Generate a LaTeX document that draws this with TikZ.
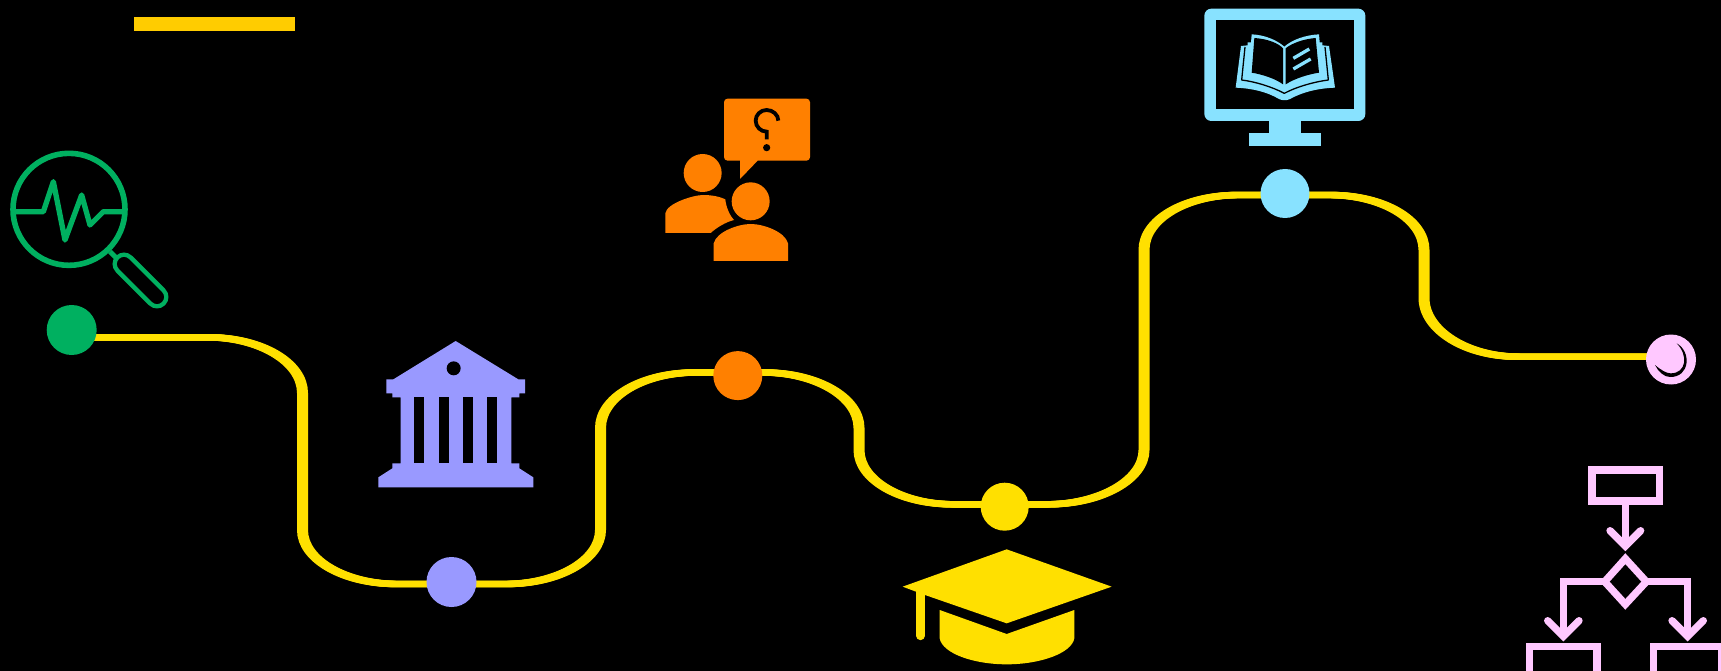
\documentclass[tikz,border=0pt]{standalone}
\usetikzlibrary{calc}
\definecolor{cgreen}{HTML}{00B060}
\definecolor{cyellow}{HTML}{FFE000}
\definecolor{cbar}{HTML}{FFCC00}
\definecolor{cpurple}{HTML}{9999FF}
\definecolor{corange}{HTML}{FF8000}
\definecolor{ccyan}{HTML}{88E2FF}
\definecolor{cpink}{HTML}{FFC8FF}
\pgfdeclarelayer{under}
\pgfsetlayers{under,main}
\tikzset{
  dot/.style={circle,minimum size=#1,inner sep=0pt,draw=none},
  route/.style={draw=cyellow,line width=6.4pt},
  zoomed/.style={x=0.33333pt,y=-0.33333pt},
  pinkline/.style={draw=cpink,line width=7.3pt,line join=miter},
  pinkhead/.style={draw=cpink,line width=7.3pt,line cap=round,line join=miter},
}
\begin{document}
\begin{tikzpicture}[x=1pt,y=-1pt]
\useasboundingbox (0,0) rectangle (1721,671);
\clip (0,0) rectangle (1721,671);

% top bar
\fill[cbar] (134,17) rectangle (295,31);

% stations
\node[dot=50pt,fill=cgreen]  (a) at (71.7,330) {};
\node[dot=50pt,fill=cpurple] (b) at (451.5,582) {};
\node[dot=49pt,fill=corange] (c) at (737.8,375.6) {};
\node[dot=48pt,fill=cyellow] (d) at (1004.7,506.7) {};
\node[dot=49pt,fill=ccyan]   (e) at (1285,193.5) {};
\node[dot=50pt,fill=cpink]   (f) at (1671,359.5) {};

\begin{pgfonlayer}{under}
\fill[black] (0,0) rectangle (1721,671);
% the route is wider on its uprights than on its flats: a broad brush of three passes
\foreach \dx in {-2.3,-1.15,0,1.15,2.3}{
\begin{scope}[xshift=\dx pt]
\draw[route] ([yshift=-7.3pt]a.center) -- (208,337.3)
  .. controls (260,337.3) and (302.5,362) .. (302.5,393) -- (302.5,530)
  .. controls (302.5,560) and (345,584) .. (397,584)
  -- ([yshift=-2pt]b.center);
\draw[route] ([yshift=-2pt]b.center) -- (506,584)
  .. controls (558,584) and (600.5,560) .. (600.5,530) -- (600.5,428)
  .. controls (600.5,397) and (643,372.5) .. (695,372.5)
  -- ([yshift=3.1pt]c.center);
\draw[route] ([yshift=3.1pt]c.center) -- (764,372.5)
  .. controls (816,372.5) and (859,397) .. (859,428) -- (859,450)
  .. controls (859,480) and (901,504.3) .. (953,504.3)
  -- ([yshift=2.4pt]d.center);
\draw[route] ([yshift=2.4pt]d.center) -- (1048,504.3)
  .. controls (1100,504.3) and (1144,480) .. (1144,450) -- (1144,250)
  .. controls (1144,219) and (1186,195) .. (1238,195)
  -- ([yshift=-1.5pt]e.center);
\draw[route] ([yshift=-1.5pt]e.center) -- (1330,195)
  .. controls (1382,195) and (1424,219) .. (1424,250) -- (1424,298)
  .. controls (1424,330) and (1466,356.7) .. (1518,356.7)
  -- ([yshift=2.8pt]f.center);
\end{scope}
}
\end{pgfonlayer}

% magnifier
\begin{scope}[shift={(0,130)},zoomed]
  \draw[cgreen,line width=5.6pt] (207,238) circle[radius=56pt];
  \draw[cgreen,line width=5.3pt,line join=round,line cap=round]
    (45,245) -- (130,245) -- (160,155) -- (195,330) -- (245,195) -- (270,285) -- (310,245) -- (372,245);
  \draw[cgreen,line width=5pt] (330,365) -- (365,400);
  \draw[cgreen,line width=23pt,line cap=round] (372,402) -- (471,501);
  \draw[black,line width=14pt,line cap=round] (372,402) -- (471,501);
\end{scope}

% bank
\begin{scope}[shift={(360,320)},zoomed]
  \fill[cpurple] (287,63) -- (475,178) -- (495,178) -- (495,220) -- (478,220) -- (478,232) -- (454,232)
    -- (454,430) -- (478,430) -- (478,445) -- (520,472) -- (520,502) -- (55,502) -- (55,472) -- (97,445)
    -- (97,430) -- (122,430) -- (122,232) -- (97,232) -- (97,220) -- (79,220) -- (79,178) -- (100,178) -- cycle;
  \fill[black] (281,145) circle[radius=7pt];
  \fill[black] (163,232) rectangle (193,430);
  \fill[black] (236,232) rectangle (267,430);
  \fill[black] (309,232) rectangle (339,430);
  \fill[black] (381,232) rectangle (411,430);
\end{scope}

% people with question
\begin{scope}[shift={(650,85)},zoomed]
  \fill[corange,rounded corners=3.5pt] (222,41) rectangle (480,227);
  \fill[corange] (270,220) -- (270,282) -- (323,227) -- (323,220) -- cycle;
  \draw[black,line width=3.8pt]
    (385,107) .. controls (385,89) and (368,75) .. (350,75)
    .. controls (332,75) and (317,89) .. (317,107)
    .. controls (317,125) and (332,140) .. (350,140) -- (350,163);
  \fill[black] (350,188) circle[radius=3.6pt];
  \fill[corange] (158,264) circle[radius=19pt];
  \fill[corange] (46,444) -- (46,385) .. controls (50,355) and (130,330) .. (160,330)
    .. controls (185,330) and (210,335) .. (226,343)
    .. controls (228,365) and (238,390) .. (252,405)
    .. controls (225,412) and (200,428) .. (182,444) -- cycle;
  \fill[corange] (302,349) circle[radius=19pt];
  \fill[corange] (191,528) -- (191,475) .. controls (200,440) and (265,417) .. (302,417)
    .. controls (340,417) and (405,440) .. (414,475) -- (414,528) -- cycle;
\end{scope}

% monitor
\begin{scope}[shift={(1190,0)},zoomed]
  \fill[ccyan,rounded corners=7pt] (43,26) rectangle (526,363);
  \fill[black] (79,61) rectangle (491,328);
  \fill[ccyan] (238,360) rectangle (332,400);
  \fill[ccyan] (177,400) rectangle (393,437);
\end{scope}
\begin{scope}[shift={(1225,25)},zoomed]
  \fill[ccyan] (48,63) -- (68,61) -- (68,52) -- (78,52) -- (80,28)
     .. controls (120,30) and (155,45) .. (178,65)
     .. controls (200,45) and (240,30) .. (282,28)
     -- (284,52) -- (292,52) -- (292,61) -- (312,63) -- (330,188)
     .. controls (280,190) and (235,200) .. (195,222)
     .. controls (185,227) and (172,227) .. (162,222)
     .. controls (125,200) and (80,190) .. (32,188) -- cycle;
  \draw[black,line width=1.3pt,line join=round]
     (60,66) -- (50,165) .. controls (90,170) and (140,185) .. (178,205)
     .. controls (215,185) and (270,170) .. (310,165) -- (300,66);
  \fill[black] (88,39) .. controls (130,42) and (160,55) .. (174,70) -- (174,178)
     .. controls (150,160) and (110,148) .. (80,143) -- cycle;
  \fill[black] (182,70) .. controls (200,55) and (235,42) .. (272,39) -- (282,143)
     .. controls (250,148) and (210,160) .. (182,178) -- cycle;
  \draw[ccyan,line width=3.3pt] (205,100) -- (253,72);
  \draw[ccyan,line width=3.3pt] (205,132) -- (257,102);
\end{scope}

% mortarboard
\begin{scope}[shift={(890,470)},zoomed]
  \fill[cyellow] (38,350) -- (350,238) -- (665,350) -- (350,460) -- (105,375) -- (78,365) -- cycle;
  \draw[cyellow,line width=9pt,line cap=round] (91.5,362) -- (91.5,497);
  \fill[cyellow] (149,420) -- (350,492) -- (553,420) -- (553,505)
     .. controls (545,550) and (450,583) .. (350,583)
     .. controls (250,583) and (157,550) .. (149,505) -- cycle;
\end{scope}

% flowchart
\begin{scope}[shift={(1510,320)},zoomed]
  \draw[pinkline] (246,450) rectangle (448,543);
  \draw[pinkline] (346,543) -- (346,675);
  \draw[pinkhead] (300,632) -- (346,678) -- (392,632);
  \draw[pinkline] (346,716) -- (409,785) -- (346,853) -- (284,785) -- cycle;
  \draw[pinkline] (284,785) -- (160,785) -- (160,945);
  \draw[pinkhead] (113,902) -- (160,949) -- (207,902);
  \draw[pinkline] (409,785) -- (533,785) -- (533,945);
  \draw[pinkhead] (486,902) -- (533,949) -- (580,902);
  \draw[pinkline] (58,979) rectangle (261,1120);
  \draw[pinkline] (431,979) rectangle (634,1120);
\end{scope}

% ring in the last station
\begin{scope}[shift={(1510,320)},zoomed]
  \fill[black] (500,70) .. controls (545,95) and (540,172) .. (480,171)
    .. controls (462,171) and (445,155) .. (435,135)
    .. controls (455,152) and (470,160) .. (482,160)
    .. controls (530,160) and (535,105) .. (500,70) -- cycle;
\end{scope}
\end{tikzpicture}
\end{document}
